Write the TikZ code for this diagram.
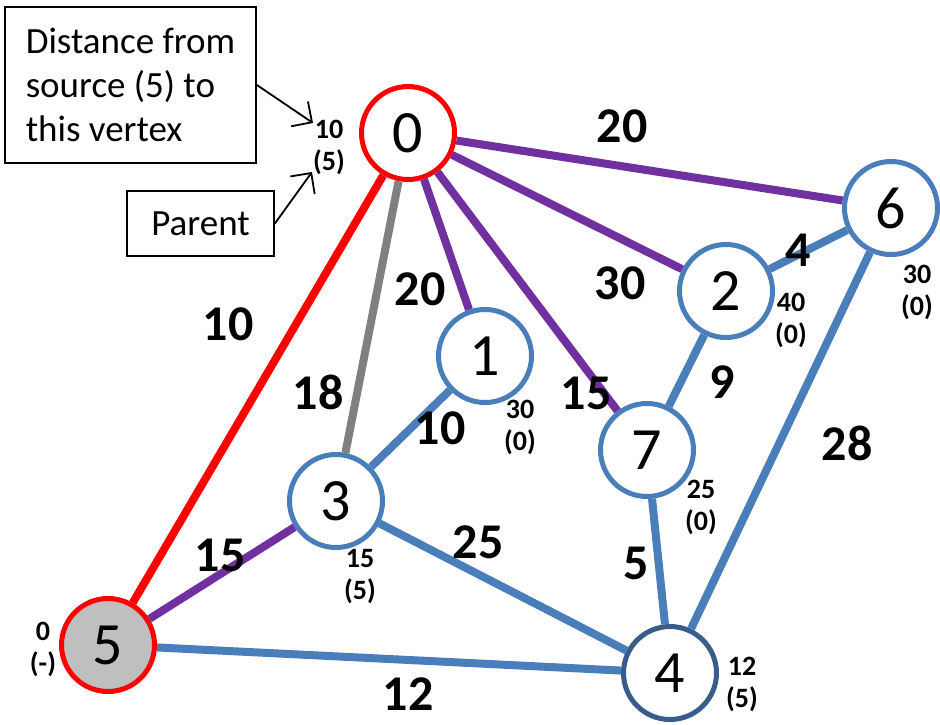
\documentclass[tikz,border=0pt]{standalone}
\usepackage{fontspec}
\setmainfont{Carlito}
\usetikzlibrary{arrows.meta}
\definecolor{vred}{HTML}{FF0000}
\definecolor{vpurple}{HTML}{7030A0}
\definecolor{vgray}{HTML}{808080}
\definecolor{vblue}{HTML}{4A7EBB}
\definecolor{vdark}{HTML}{385D8A}
\definecolor{vfill}{HTML}{BFBFBF}
\begin{document}
\begin{tikzpicture}[x=1pt,y=-1pt,
  vtx/.style={circle, draw=vblue, line width=5pt, minimum size=93pt, inner sep=0pt, fill=white,
    font=\fontsize{60}{60}\selectfont},
  edg/.style={line width=8pt},
  wt/.style={font=\fontsize{50}{50}\selectfont\bfseries, inner sep=0pt},
  info/.style={font=\fontsize{28}{32}\selectfont\bfseries, align=center, inner sep=0pt},
  note/.style={draw, line width=1.8pt, font=\fontsize{37}{44}\selectfont, align=left},
  callout/.style={line width=1.8pt, -{Straight Barb[length=15pt,width=30pt,line width=1.8pt]}}
]
\useasboundingbox (0,0) rectangle (940,724);
% vertices
\node[vtx, draw=vred] (n0) at (408,133) {0};
\node[vtx] (n1) at (485,356) {1};
\node[vtx] (n2) at (726,291) {2};
\node[vtx] (n3) at (336,501) {3};
\node[vtx, draw=vdark] (n4) at (670,673) {4};
\node[vtx, draw=vred, fill=vfill] (n5) at (108,645) {5};
\node[vtx] (n6) at (891,208) {6};
\node[vtx] (n7) at (647,450) {7};
% edges
\draw[edg, vred] (n0) -- (n5);
\draw[edg, vgray] (n0) -- (n3);
\draw[edg, vpurple] (n0) -- (n1);
\draw[edg, vpurple] (n0) -- (n7);
\draw[edg, vpurple] (n0) -- (n2);
\draw[edg, vpurple] (n0) -- (n6);
\draw[edg, vpurple] (n3) -- (n5);
\draw[edg, vblue] (n1) -- (n3);
\draw[edg, vblue] (n3) -- (n4);
\draw[edg, vblue] (n5) -- (n4);
\draw[edg, vblue] (n2) -- (n6);
\draw[edg, vblue] (n2) -- (n7);
\draw[edg, vblue] (n7) -- (n4);
\draw[edg, vblue] (n6) -- (n4);
% weights
\node[wt] (w06) at (622,126) {20};
\node[wt] (w05) at (228,324) {10};
\node[wt] (w01) at (420,289) {20};
\node[wt] (w02) at (620,283) {30};
\node[wt] (w03) at (318,392) {18};
\node[wt] (w13) at (440,428) {10};
\node[wt] (w07) at (586,393) {15};
\node[wt] (w27) at (722,382) {9};
\node[wt] (w26) at (798,250) {4};
\node[wt] (w64) at (847,443) {28};
\node[wt] (w35) at (220,555) {15};
\node[wt] (w34) at (478,542) {25};
\node[wt] (w74) at (636,563) {5};
\node[wt] (w54) at (408,694) {12};
% distance / parent labels
\node[info] (i0) at (329,147) {10\\(5)};
\node[info] (i1) at (520,427) {30\\(0)};
\node[info] (i2) at (791,320) {40\\(0)};
\node[info] (i6) at (917,292) {30\\(0)};
\node[info] (i7) at (701,507) {25\\(0)};
\node[info] (i3) at (360,577) {15\\(5)};
\node[info] (i5) at (43,649) {0\\(-)};
\node[info] (i4) at (742,684) {12\\(5)};
% callouts
\node[note, minimum width=251pt, minimum height=156pt] (box1) at (130.5,85) {Distance from\\source (5) to\\this vertex};
\node[note, minimum width=147pt, minimum height=65pt, align=center] (box2) at (200.5,223.5) {Parent};
\coordinate (t1) at (313,123);
\coordinate (t2) at (312,172);
\draw[callout] (box1.east) -- (t1);
\draw[callout] (box2.east) -- (t2);
\end{tikzpicture}
\end{document}
